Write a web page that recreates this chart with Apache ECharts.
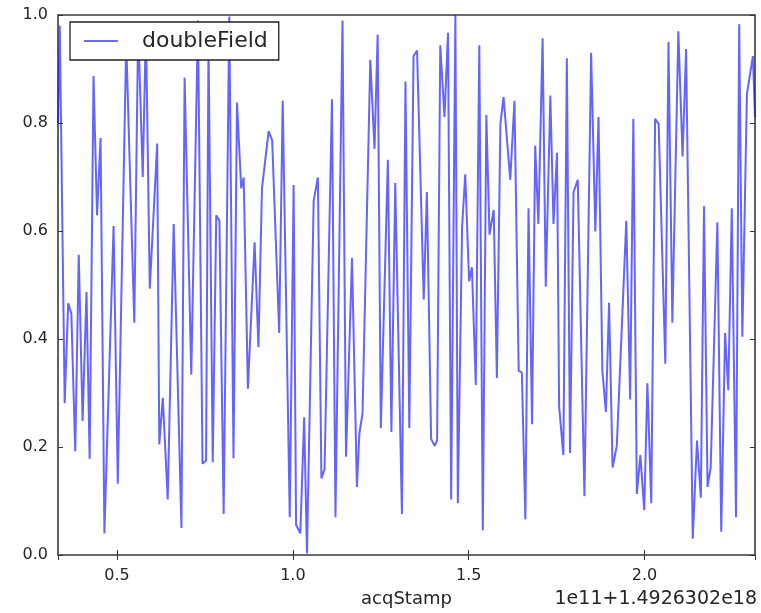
<!DOCTYPE html>
<html>
<head>
<meta charset="utf-8">
<script src="https://cdn.jsdelivr.net/npm/echarts@6/dist/echarts.min.js"></script>
<style>
html,body{margin:0;padding:0;background:#fff;}
#chart{width:761px;height:613px;}
</style>
</head>
<body>
<div id="chart"></div>
<script>
// acqStamp values, in units of 1e11 after the 1.4926302e18 offset
const acqStamp = [
0.332,0.337,0.351,0.361,0.370,0.381,0.391,0.402,0.413,0.422,
0.433,0.443,0.453,0.464,0.490,0.502,0.526,0.549,0.560,0.573,
0.582,0.593,0.614,0.620,0.630,0.644,0.661,0.683,0.692,0.711,
0.730,0.743,0.753,0.760,0.772,0.782,0.791,0.803,0.819,0.831,
0.841,0.853,0.860,0.872,0.891,0.902,0.912,0.931,0.941,0.961,
0.971,0.991,1.002,1.009,1.021,1.032,1.040,1.059,1.071,1.081,
1.090,1.111,1.121,1.141,1.151,1.168,1.182,1.189,1.198,1.220,
1.232,1.241,1.250,1.270,1.280,1.291,1.310,1.320,1.331,1.343,
1.353,1.372,1.381,1.393,1.403,1.410,1.419,1.431,1.441,1.450,
1.462,1.469,1.481,1.490,1.501,1.509,1.520,1.530,1.540,1.550,
1.559,1.571,1.580,1.590,1.599,1.618,1.630,1.642,1.651,1.661,
1.670,1.680,1.689,1.698,1.710,1.719,1.732,1.741,1.751,1.757,
1.769,1.779,1.788,1.798,1.810,1.829,1.848,1.860,1.869,1.880,
1.890,1.899,1.909,1.921,1.948,1.959,1.968,1.978,1.988,1.999,
2.008,2.019,2.030,2.040,2.059,2.068,2.079,2.096,2.108,2.118,
2.137,2.149,2.160,2.169,2.179,2.188,2.207,2.218,2.229,2.238,
2.248,2.260,2.269,2.278,2.291,2.308,2.314
];
const doubleField = [
0.80,0.98,0.281,0.466,0.447,0.192,0.556,0.248,0.487,0.178,
0.887,0.629,0.772,0.040,0.609,0.132,0.95,0.430,0.98,0.700,
0.98,0.493,0.762,0.205,0.291,0.103,0.613,0.050,0.884,0.334,
0.99,0.169,0.175,0.95,0.172,0.629,0.619,0.076,0.997,0.179,
0.838,0.679,0.699,0.308,0.579,0.385,0.679,0.785,0.768,0.411,
0.841,0.070,0.685,0.056,0.040,0.255,0.003,0.656,0.699,0.142,
0.159,0.844,0.070,0.99,0.182,0.550,0.126,0.225,0.262,0.917,
0.752,0.964,0.235,0.732,0.228,0.689,0.076,0.877,0.235,0.924,
0.934,0.473,0.672,0.215,0.202,0.212,0.944,0.811,0.967,0.103,
1.0,0.096,0.606,0.705,0.507,0.533,0.315,0.944,0.046,0.815,
0.593,0.639,0.328,0.798,0.848,0.695,0.841,0.341,0.338,0.066,
0.642,0.242,0.758,0.613,0.957,0.497,0.851,0.613,0.745,0.275,
0.185,0.920,0.189,0.672,0.695,0.109,0.930,0.599,0.811,0.341,
0.265,0.467,0.162,0.202,0.619,0.288,0.808,0.113,0.185,0.083,
0.318,0.096,0.808,0.798,0.354,0.950,0.430,0.970,0.738,0.937,
0.030,0.212,0.106,0.646,0.126,0.162,0.616,0.043,0.411,0.305,
0.642,0.070,0.983,0.404,0.854,0.924,0.811
];
const seriesName = 'doubleField';
const xLabel = 'acqStamp';
const offsetText = '1e11+1.4926302e18';
const yTicks = [0.0, 0.2, 0.4, 0.6, 0.8, 1.0];

const points = acqStamp.map((x, i) => [x, doubleField[i]]);
const xMin = acqStamp[0], xMax = acqStamp[acqStamp.length - 1];
const font = 'DejaVu Sans';
const txt = '#262626';
const lineCol = 'rgba(20,20,255,0.66)';

const isHalf = v => Math.abs(v * 2 - Math.round(v * 2)) < 1e-6;

const chart = echarts.init(document.getElementById('chart'), null, {renderer: 'canvas'});
chart.setOption({
  animation: false,
  backgroundColor: '#fff',
  grid: {left: 58, right: 6, top: 15, bottom: 58, show: true, borderColor: '#3a3a3a', borderWidth: 1.6, backgroundColor: 'transparent'},
  legend: {
    left: 70, top: 22,
    orient: 'vertical',
    backgroundColor: '#fff',
    borderColor: '#222', borderWidth: 1.3, borderRadius: 0,
    padding: [8, 11, 8, 14],
    itemWidth: 34, itemHeight: 14,
    textStyle: {fontFamily: font, fontSize: 22, color: txt, padding: [0, 0, 0, 19]},
    data: [{name: seriesName, icon: 'path://M0,6 L34,6 L34,8 L0,8 Z', itemStyle: {color: 'rgba(70,70,255,0.8)'}}]
  },
  xAxis: [{
    type: 'value', min: xMin, max: xMax, splitNumber: 4, position: 'bottom',
    name: xLabel, nameLocation: 'middle', nameGap: 35,
    nameTextStyle: {fontFamily: font, fontSize: 18, color: txt},
    axisLine: {show: false}, splitLine: {show: false},
    axisTick: {show: true, inside: true, length: 5, lineStyle: {color: '#333'}},
    axisLabel: {fontFamily: font, fontSize: 16, color: txt, margin: 13,
      showMinLabel: false, showMaxLabel: false,
      formatter: v => isHalf(v) ? v.toFixed(1) : ''}
  }, {
    type: 'value', min: xMin, max: xMax, splitNumber: 4, position: 'top',
    axisLine: {show: false}, splitLine: {show: false}, axisLabel: {show: false},
    axisTick: {show: true, inside: true, length: 5, lineStyle: {color: '#333'}}
  }],
  yAxis: [{
    type: 'value', min: yTicks[0], max: yTicks[yTicks.length - 1], interval: 0.2,
    axisLine: {show: false}, splitLine: {show: false},
    axisTick: {show: true, inside: true, length: 5, lineStyle: {color: '#333'}},
    axisLabel: {fontFamily: font, fontSize: 16, color: txt, margin: 10, formatter: v => v.toFixed(1)}
  }, {
    type: 'value', min: yTicks[0], max: yTicks[yTicks.length - 1], interval: 0.2, position: 'right',
    axisLine: {show: false}, splitLine: {show: false}, axisLabel: {show: false},
    axisTick: {show: true, inside: true, length: 5, lineStyle: {color: '#333'}}
  }],
  graphic: [{
    type: 'text', right: 4, top: 590,
    style: {text: offsetText, font: '19px "DejaVu Sans"', fill: txt}
  }],
  series: [{
    name: seriesName, type: 'line', xAxisIndex: 0, yAxisIndex: 0,
    data: points, symbol: 'none', smooth: false,
    lineStyle: {color: lineCol, width: 2},
    itemStyle: {color: lineCol},
    clip: true
  }]
});
</script>
</body>
</html>
